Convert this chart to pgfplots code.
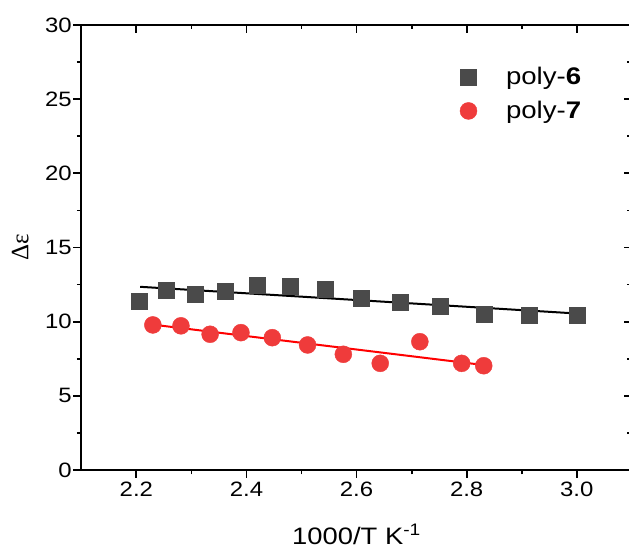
\documentclass[border=0pt]{standalone}
\usepackage{pgfplots}
\pgfplotsset{compat=1.18}
\usepackage{fontspec}
\setmainfont{Liberation Sans}[FakeStretch=1.15]
\newfontfamily\greekfont{Liberation Serif}
\definecolor{sqgray}{RGB}{74,74,74}
\definecolor{cred}{RGB}{239,59,59}
\begin{document}
\begin{tikzpicture}
\pgfplotsset{
  common/.style={
    width=550.5pt, height=445pt, scale only axis,
    xmin=2.1, xmax=3.1, ymin=0, ymax=30,
    xtick={2.2,2.4,2.6,2.8,3.0}, ytick={0,5,10,15,20,25,30},
    minor x tick num=1, minor y tick num=1,
    major tick length=8pt, minor tick length=4.5pt,
    every tick/.style={line width=1.8pt, black},
    axis line style={line width=2pt},
  }
}
\begin{axis}[common, name=main,
  tick align=outside, xtick pos=lower, ytick pos=left,
  /pgf/number format/assume math mode=true,
  ticklabel style={font=\fontsize{20.8}{22}\selectfont},
  y tick label style={xshift=2pt},
  x tick label style={/pgf/number format/fixed, /pgf/number format/fixed zerofill, /pgf/number format/precision=1},
  xlabel={1000/T K\textsuperscript{-1}},
  ylabel={{\greekfont Δε}},
  every axis x label/.style={at={([yshift=-75pt]axis description cs:0.5,0)}, anchor=base, font=\fontsize{23.8}{26}\selectfont},
  every axis y label/.style={at={([xshift=-61pt]axis description cs:0,0.5)}, rotate=90, anchor=center, font=\fontsize{25}{28}\selectfont},
  legend image code/.code={\draw[#1] plot coordinates {(0pt,0pt)};},
  legend style={draw=none, fill=none, at={(axis cs:2.898,25.35)}, anchor=center,
    row sep=15pt, nodes={inner sep=0pt, font=\fontsize{24}{26}\selectfont},
    /tikz/every odd column/.append style={column sep=29pt}},
  legend cell align=left,
]
\addplot[only marks, mark=square*, mark size=8pt, mark options={draw=sqgray, fill=sqgray}] coordinates {
  (2.206,11.41) (2.255,12.13) (2.307,11.87) (2.361,12.02) (2.419,12.47)
  (2.479,12.36) (2.543,12.18) (2.609,11.57) (2.679,11.30) (2.752,11.01)
  (2.831,10.49) (2.913,10.45) (3.000,10.45)
};
\addplot[only marks, mark=*, mark size=8.5pt, mark options={draw=cred, fill=cred}] coordinates {
  (2.230,9.78) (2.281,9.72) (2.334,9.15) (2.390,9.26) (2.447,8.92)
  (2.511,8.43) (2.576,7.80) (2.643,7.19) (2.715,8.65) (2.791,7.19)
  (2.831,7.03)
};
\addplot[black, line width=2pt, forget plot] coordinates {(2.207,12.35) (3.0,10.55)};
\addplot[red, line width=2pt, forget plot] coordinates {(2.23,9.80) (2.83,7.08)};
\legend{poly-\textbf{6}, poly-\textbf{7}}
\end{axis}
\begin{axis}[common, tick align=inside, xtick pos=upper, ytick pos=right,
  xticklabels={}, yticklabels={}]
\end{axis}
\pgfresetboundingbox
\path[use as bounding box] ([xshift=-81.3pt,yshift=-80pt]main.south west) rectangle ([xshift=-2.8pt,yshift=25pt]main.north east);
\end{tikzpicture}
\end{document}
